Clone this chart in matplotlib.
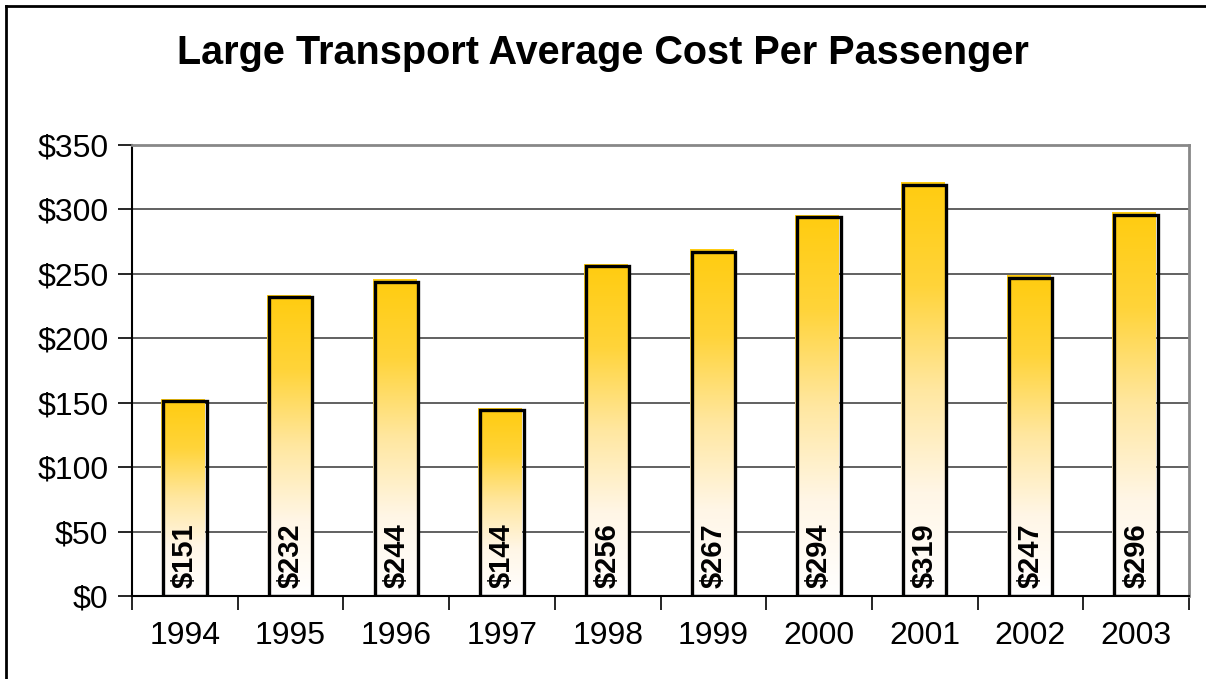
import matplotlib
matplotlib.use("Agg")
import matplotlib.pyplot as plt
import numpy as np
from matplotlib.colors import LinearSegmentedColormap
from matplotlib.patches import Rectangle
from matplotlib.lines import Line2D

plt.rcParams['font.family'] = ['Liberation Sans', 'DejaVu Sans']

# chart data
years = ['1994', '1995', '1996', '1997', '1998', '1999', '2000', '2001', '2002', '2003']
cost = [151, 232, 244, 144, 256, 267, 294, 319, 247, 296]
y_ticks = [0, 50, 100, 150, 200, 250, 300, 350]

fig = plt.figure(figsize=(12.06, 6.79), dpi=100)
ax = fig.add_axes([132 / 1206, 1 - 596 / 679, 1057 / 1206, 451 / 679])

# gold at the top fading to white at the bottom
gold = LinearSegmentedColormap.from_list('gold', ['#ffffff', '#fff6e6', '#ffe7a0', '#ffd43a', '#ffcc10'])
grad = np.linspace(0, 1, 256).reshape(-1, 1)

width = 0.41
px_x = 10 / 1057  # one pixel in data units
px_y = 350 / 451
x = np.arange(len(years))
for i, v in enumerate(cost):
    left = x[i] - width / 2
    # fill is offset a touch up-left of the outline, like the Excel original
    ax.imshow(grad, cmap=gold, origin='lower', aspect='auto', interpolation='bilinear',
              extent=(left - 2 * px_x, left + width - 2 * px_x, 0, v + 2 * px_y), zorder=2)
    ax.add_patch(Rectangle((left, 0), width, v, facecolor='none', edgecolor='black',
                           linewidth=2.4, zorder=3))
    ax.text(x[i], 6, '$%d' % v, rotation=90, ha='center', va='bottom',
            fontsize=21, fontweight='bold', zorder=4)

ax.set_xlim(-0.5, len(years) - 0.5)
ax.set_ylim(0, 350)
ax.set_yticks(y_ticks)
ax.set_yticklabels(['$%d' % t for t in y_ticks])
ax.set_xticks(np.arange(-0.5, len(years), 1))
ax.set_xticklabels([])
ax.set_xticks(x, minor=True)
ax.set_xticklabels(years, minor=True)
ax.tick_params(axis='x', which='minor', length=0, pad=18, labelsize=23)
ax.tick_params(axis='x', which='major', length=10, width=1.2, direction='out')
ax.tick_params(axis='y', length=10, width=1.2, direction='out', pad=7, labelsize=23)

ax.grid(axis='y', color='#606060', linewidth=1.4, zorder=1)
ax.set_axisbelow(True)
for s in ['top', 'right']:
    ax.spines[s].set_color('#888888')
    ax.spines[s].set_linewidth(2)
ax.spines['left'].set_linewidth(1.5)
ax.spines['bottom'].set_linewidth(1.5)

fig.text(0.5, 1 - 53 / 679, 'Large Transport Average Cost Per Passenger',
         ha='center', va='center', fontsize=28.5, fontweight='bold')

# outer chart frame (only top and left visible)
fig.add_artist(Line2D([6 / 1206, 6 / 1206], [0, 1 - 6 / 679], color='black', linewidth=2))
fig.add_artist(Line2D([6 / 1206, 1.01], [1 - 6 / 679, 1 - 6 / 679], color='black', linewidth=2))

fig.savefig('out.png', dpi=100)
